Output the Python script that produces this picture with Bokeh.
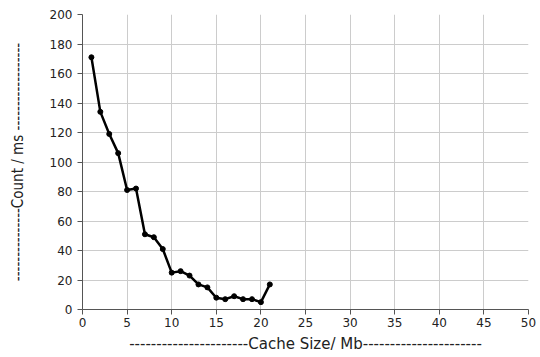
from bokeh.plotting import figure
from bokeh.models import ColumnDataSource, FixedTicker
from bokeh.embed import file_html
from bokeh.resources import INLINE

cache_size = [1, 2, 3, 4, 5, 6, 7, 8, 9, 10, 11, 12, 13, 14, 15, 16, 17, 18, 19, 20, 21]
count_ms = [171, 134, 119, 106, 81, 82, 51, 49, 41, 25, 26, 23, 17, 15, 8, 7, 9, 7, 7, 5, 17]
x_ticks = [0, 5, 10, 15, 20, 25, 30, 35, 40, 45, 50]
y_ticks = [0, 20, 40, 60, 80, 100, 120, 140, 160, 180, 200]

src = ColumnDataSource(dict(x=cache_size, y=count_ms))

p = figure(width=538, height=355, output_backend="svg", toolbar_location=None,
           x_range=(0, 50), y_range=(0, 200),
           min_border_left=82, min_border_right=10, min_border_top=14, min_border_bottom=46)
p.outline_line_color = None
p.line("x", "y", source=src, line_color="black", line_width=2.5)
p.scatter("x", "y", source=src, size=5, color="black")

p.xaxis.ticker = FixedTicker(ticks=x_ticks)
p.yaxis.ticker = FixedTicker(ticks=y_ticks)
for ax in (p.xaxis[0], p.yaxis[0]):
    ax.major_label_text_font = "DejaVu Sans"
    ax.major_label_text_font_size = "12px"
    ax.major_label_text_color = "#222222"
    ax.axis_line_color = "#555555"
    ax.major_tick_line_color = "#555555"
    ax.major_tick_in = 0
    ax.major_tick_out = 5
    ax.minor_tick_line_color = None
    ax.axis_label_text_font_style = "normal"
    ax.axis_label_text_color = "#222222"

p.xaxis.major_label_standoff = 3
p.xaxis.axis_label = "----------------------Cache Size/ Mb----------------------"
p.xaxis.axis_label_text_font = "DejaVu Sans"
p.xaxis.axis_label_text_font_size = "15px"
p.xaxis.axis_label_standoff = 5
p.yaxis.axis_label = "---------------Count / ms ------------------"
p.yaxis.axis_label_text_font = "DejaVu Sans Condensed"
p.yaxis.axis_label_text_font_size = "15px"
p.yaxis.axis_label_standoff = 20

p.xgrid.grid_line_color = "#cccccc"
p.ygrid.grid_line_color = "#cccccc"
p.xgrid.grid_line_width = 1
p.ygrid.grid_line_width = 1

open("out.html", "w").write(file_html(p, INLINE))
